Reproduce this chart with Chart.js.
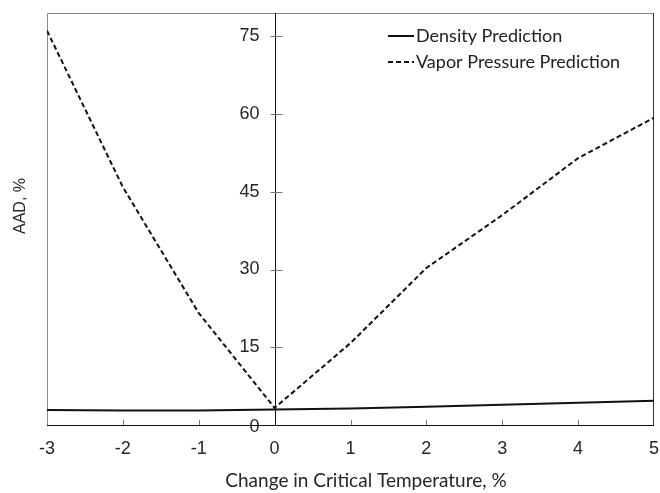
<!DOCTYPE html>
<html>
<head>
<meta charset="utf-8">
<script src="https://cdn.jsdelivr.net/npm/chart.js@4.4.0/dist/chart.umd.min.js"></script>
<style>
html,body{margin:0;padding:0;background:#fff;}
#wrap{width:660px;height:493px;}
</style>
</head>
<body>
<div id="wrap"><canvas id="c" width="660" height="493"></canvas></div>
<script>
const xValues = [-3, -2, -1, 0, 1, 2, 3, 4, 5];
const densityAAD = [2.9, 2.8, 2.8, 3.0, 3.2, 3.5, 3.9, 4.3, 4.7];
const vaporAAD = [76.1, 45.9, 21.6, 3.3, 15.8, 30.3, 40.5, 51.5, 59.3];
const yTicks = [0, 15, 30, 45, 60, 75];
const xTicks = [-3, -2, -1, 0, 1, 2, 3, 4, 5];
const seriesNames = ['Density Prediction', 'Vapor Pressure Prediction'];
const xTitle = 'Change in Critical Temperature, %';
const yTitle = 'AAD, %';

const toPts = (arr) => xValues.map((x, i) => ({x: x, y: arr[i]}));

const decor = {
  id: 'decor',
  beforeDatasetsDraw(chart) {
    const {ctx, chartArea: a, scales: {x, y}} = chart;
    ctx.save();
    // frame
    ctx.lineWidth = 1;
    ctx.strokeStyle = '#8a8a8a';
    ctx.beginPath();
    ctx.moveTo(a.left + 0.5, a.bottom);
    ctx.lineTo(a.left + 0.5, a.top + 0.5);
    ctx.lineTo(a.right, a.top + 0.5);
    ctx.stroke();
    ctx.strokeStyle = '#333';
    ctx.beginPath();
    ctx.moveTo(a.right - 0.5, a.top);
    ctx.lineTo(a.right - 0.5, a.bottom);
    ctx.stroke();
    // x axis line
    ctx.strokeStyle = '#111';
    ctx.beginPath();
    ctx.moveTo(a.left, a.bottom + 0.5);
    ctx.lineTo(a.right, a.bottom + 0.5);
    ctx.stroke();
    // y axis at x=0
    const x0 = Math.round(x.getPixelForValue(0)) + 0.5;
    ctx.beginPath();
    ctx.moveTo(x0, a.top);
    ctx.lineTo(x0, a.bottom);
    ctx.stroke();
    // y ticks crossing
    ctx.strokeStyle = '#777';
    yTicks.forEach(v => {
      if (v === 0) return;
      const py = Math.round(y.getPixelForValue(v)) + 0.5;
      ctx.beginPath();
      ctx.moveTo(x0 - 5, py);
      ctx.lineTo(x0 + 7, py);
      ctx.stroke();
    });
    // x ticks inside
    xTicks.forEach(v => {
      if (v === 0 || v === x.min || v === x.max) return;
      const px = Math.round(x.getPixelForValue(v)) + 0.5;
      ctx.beginPath();
      ctx.moveTo(px, a.bottom);
      ctx.lineTo(px, a.bottom - 5);
      ctx.stroke();
    });
    // y tick labels
    ctx.fillStyle = '#262626';
    ctx.font = '18px "Liberation Sans", Arial, sans-serif';
    ctx.textAlign = 'right';
    ctx.textBaseline = 'middle';
    yTicks.forEach(v => {
      const py = y.getPixelForValue(v);
      ctx.fillText(String(v), x0 - 16, py + (v === 0 ? 2 : 0));
    });
    // x tick labels
    ctx.textAlign = 'center';
    xTicks.forEach(v => {
      const px = x.getPixelForValue(v);
      ctx.fillText(String(v), px, a.bottom + 24);
    });
    // x title
    ctx.font = '19px Lato, "Open Sans", sans-serif';
    ctx.fillText(xTitle, 366, a.bottom + 56);
    // y title
    ctx.save();
    ctx.translate(21, 206);
    ctx.rotate(-Math.PI / 2);
    ctx.font = '16px "Liberation Sans", Arial, sans-serif';
    ctx.fillText(yTitle, 0, 0);
    ctx.restore();
    // legend
    const ds = chart.data.datasets;
    const rows = [36, 62];
    ctx.font = '18px Lato, "Open Sans", sans-serif';
    ctx.textAlign = 'left';
    ds.forEach((d, i) => {
      ctx.strokeStyle = d.borderColor;
      ctx.lineWidth = d.borderWidth;
      ctx.setLineDash(d.borderDash || []);
      ctx.beginPath();
      ctx.moveTo(388, rows[i]);
      ctx.lineTo(414, rows[i]);
      ctx.stroke();
      ctx.setLineDash([]);
      ctx.fillStyle = '#222';
      ctx.fillText(d.label, 416, rows[i]);
    });
    ctx.restore();
  }
};

new Chart(document.getElementById('c'), {
  type: 'line',
  data: {
    datasets: [
      {label: seriesNames[0], data: toPts(densityAAD), borderColor: '#111', borderWidth: 2, pointRadius: 0, tension: 0, fill: false},
      {label: seriesNames[1], data: toPts(vaporAAD), borderColor: '#111', borderWidth: 2, borderDash: [5, 3], pointRadius: 0, tension: 0, fill: false}
    ]
  },
  options: {
    responsive: false,
    animation: false,
    events: [],
    layout: {padding: {left: 47, right: 6, top: 13, bottom: 68}},
    plugins: {legend: {display: false}, tooltip: {enabled: false}},
    scales: {
      x: {type: 'linear', min: -3, max: 5, display: false},
      y: {type: 'linear', min: 0, max: 79.5, display: false}
    }
  },
  plugins: [decor]
});
</script>
</body>
</html>
